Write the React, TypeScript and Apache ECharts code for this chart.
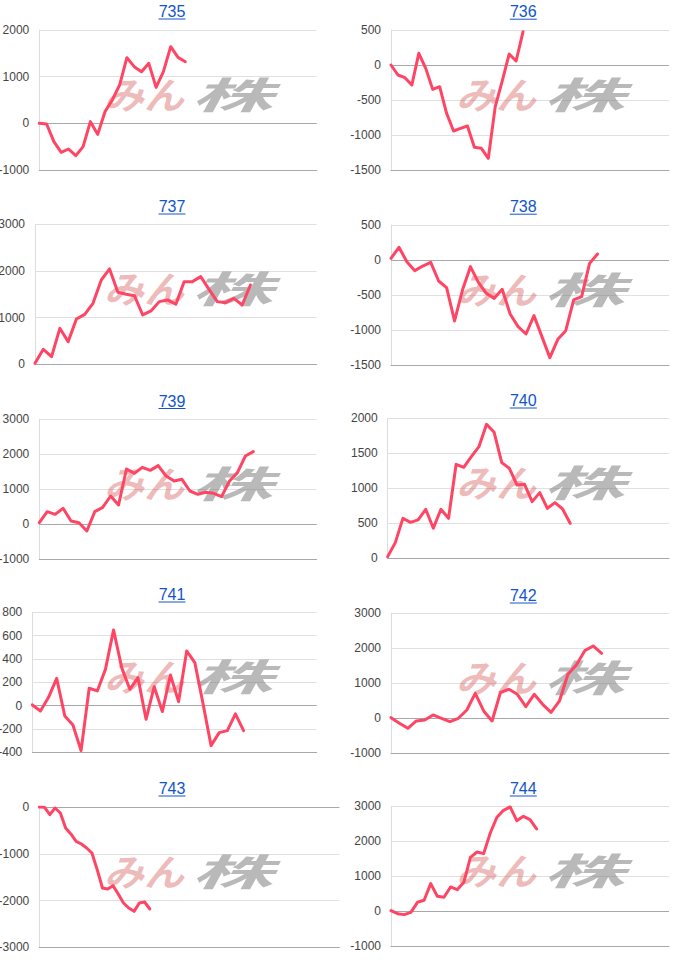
import React, { useEffect, useRef } from "react";
import * as echarts from "echarts";

// ---- data ----
const titles = ["735", "736", "737", "738", "739", "740", "741", "742", "743", "744"];

const s735 = [0, -14, -393, -621, -550, -693, -500, 36, -236, 250, 500, 821, 1407, 1214, 1107, 1286, 771, 1107, 1643, 1414, 1321];
const s736 = [0, -143, -181, -286, 167, -48, -348, -310, -690, -943, -905, -871, -1176, -1190, -1333, -595, -229, 157, 57, 476];
const s737 = [21, 321, 164, 771, 486, 971, 1071, 1307, 1807, 2043, 1543, 1500, 1471, 1057, 1143, 1343, 1379, 1286, 1771, 1771, 1879, 1607, 1343, 1321, 1414, 1271, 1700];
const s738 = [24, 181, -24, -152, -86, -33, -300, -395, -871, -429, -95, -319, -476, -548, -419, -771, -952, -1057, -795, -1095, -1395, -1133, -1010, -571, -524, -48, 86];
const s739 = [38, 352, 276, 448, 86, 38, -200, 352, 476, 800, 543, 1571, 1448, 1619, 1533, 1667, 1371, 1229, 1276, 943, 848, 905, 876, 781, 1229, 1467, 1943, 2067];
const s740 = [24, 224, 571, 514, 548, 700, 429, 700, 571, 1343, 1300, 1452, 1595, 1914, 1800, 1367, 1286, 1048, 1057, 810, 938, 714, 795, 705, 500];
const s741 = [6, -46, 71, 234, -89, -166, -386, 149, 126, 311, 649, 326, 140, 240, -117, 163, -51, 263, 34, 469, 369, 20, -343, -231, -214, -71, -214];
const s742 = [19, -143, -286, -76, -48, 95, 0, -95, 0, 238, 714, 210, -76, 743, 829, 686, 333, 686, 400, 171, 495, 1257, 1524, 1933, 2067, 1857];
const s743 = [0, -7, -164, -21, -128, -449, -577, -734, -791, -877, -984, -1340, -1732, -1753, -1682, -1860, -2053, -2160, -2231, -2053, -2031, -2181];
const s744 = [19, -67, -95, -29, 257, 314, 790, 429, 400, 695, 619, 829, 1543, 1695, 1648, 2238, 2686, 2886, 2981, 2590, 2714, 2619, 2352];

const seriesValues = [s735, s736, s737, s738, s739, s740, s741, s742, s743, s744];

// number of x slots (days) on each chart's horizontal range
const xSlots = [39, 41, 35, 36, 36, 38, 36, 34, 58, 43];

// y axis ranges: [min, max, step]
const yRanges = [
  [-1000, 2000, 1000],
  [-1500, 500, 500],
  [0, 3000, 1000],
  [-1500, 500, 500],
  [-1000, 3000, 1000],
  [0, 2000, 500],
  [-400, 800, 200],
  [-1000, 3000, 1000],
  [-3000, 0, 1000],
  [-1000, 3000, 1000],
];

// ---- layout (page pixels) ----
const gridBoxes = [
  { left: 39.3, top: 30, width: 277.4, height: 140 },
  { left: 391, top: 30, width: 278, height: 140 },
  { left: 35, top: 224.3, width: 281.7, height: 140 },
  { left: 391, top: 225, width: 278, height: 140 },
  { left: 39.3, top: 419, width: 277.4, height: 140 },
  { left: 387.7, top: 418.3, width: 281.3, height: 140 },
  { left: 32.3, top: 612.3, width: 284.4, height: 140 },
  { left: 391, top: 613.3, width: 278, height: 140 },
  { left: 39.3, top: 807, width: 300, height: 140.3 },
  { left: 391, top: 806.3, width: 278, height: 140 },
];
const titlePos = [
  [172, 11.5], [523.3, 11.7],
  [172, 206.5], [523.3, 206.7],
  [172, 401], [523.3, 400.5],
  [172, 594.5], [523.3, 595.5],
  [172, 788.5], [523.3, 788.5],
];

const LINE_COLOR = "#ff4564";
const FONT = "'Liberation Sans', Arial, sans-serif";

export default function App() {
  const ref = useRef<HTMLDivElement>(null);
  useEffect(() => {
    if (!ref.current) return;
    const chart = echarts.init(ref.current, null, { renderer: "svg" });

    const grid: any[] = [];
    const xAxis: any[] = [];
    const yAxis: any[] = [];
    const series: any[] = [];
    const graphic: any[] = [];

    seriesValues.forEach((vals, i) => {
      const g = gridBoxes[i];
      const [mn, mx, step] = yRanges[i];
      grid.push({ ...g, containLabel: false, outerBoundsMode: "none" });
      const cats = Array.from({ length: xSlots[i] }, (_, k) => String(k + 1));
      xAxis.push({
        type: "category",
        gridIndex: i,
        data: cats,
        boundaryGap: false,
        axisLabel: { show: false },
        axisTick: { show: false },
        axisLine: { show: true, onZero: false, lineStyle: { color: "#a8a8a8", width: 1 } },
        splitLine: { show: false },
      });
      yAxis.push({
        type: "value",
        gridIndex: i,
        min: mn,
        max: mx,
        interval: step,
        axisLine: { show: true, lineStyle: { color: "#dcdcdc", width: 1 } },
        axisTick: { show: false },
        axisLabel: {
          color: "#444",
          fontSize: 12,
          fontFamily: FONT,
          margin: 10,
          formatter: (v: number) => String(v),
        },
        splitLine: { show: true, lineStyle: { color: "#e0e0e0", width: 1 } },
      });
      series.push({
        type: "line",
        xAxisIndex: i,
        yAxisIndex: i,
        data: vals,
        showSymbol: false,
        symbol: "none",
        z: 5,
        lineStyle: { color: LINE_COLOR, width: 3, cap: "round", join: "round" },
        markLine: {
          silent: true,
          symbol: ["none", "none"],
          label: { show: false },
          lineStyle: { color: "#a8a8a8", type: "solid", width: 1 },
          data: [{ yAxis: 0 }],
          z: 1,
        },
      });

      // title with underline
      const [tx, ty] = titlePos[i];
      graphic.push({
        type: "text",
        x: tx,
        y: ty,
        style: {
          text: titles[i],
          fill: "#1155cc",
          fontSize: 16,
          fontFamily: FONT,
          textAlign: "center",
          textVerticalAlign: "middle",
        },
      });
      graphic.push({
        type: "line",
        shape: { x1: tx - 13.5, y1: ty + 7.5, x2: tx + 13.5, y2: ty + 7.5 },
        style: { stroke: "#1155cc", lineWidth: 1 },
      });

      // watermark
      const wx = i % 2 === 0 ? 104 : 456;
      const wy = g.top + 44;
      graphic.push({
        type: "text",
        x: wx,
        y: wy,
        scaleX: 1.08,
        z: 1,
        style: {
          text: "みん",
          fill: "rgba(214,88,88,0.42)",
          fontSize: 37,
          fontWeight: "bold",
          fontStyle: "italic",
          fontFamily: "'Noto Sans CJK JP', sans-serif",
          textVerticalAlign: "top",
        },
      });
      graphic.push({
        type: "text",
        x: wx + 87,
        y: wy,
        scaleX: 2.2,
        z: 1,
        style: {
          text: "株",
          fill: "rgba(120,120,120,0.52)",
          fontSize: 37,
          fontWeight: "bold",
          fontStyle: "italic",
          fontFamily: "'Noto Sans CJK JP', sans-serif",
          textVerticalAlign: "top",
        },
      });
    });

    chart.setOption({
      animation: false,
      backgroundColor: "#ffffff",
      grid,
      xAxis,
      yAxis,
      series,
      graphic,
    });
    return () => chart.dispose();
  }, []);

  return (
    <div
      ref={ref}
      style={{ position: "absolute", left: 0, top: 0, width: 700, height: 970, background: "#fff" }}
    />
  );
}
